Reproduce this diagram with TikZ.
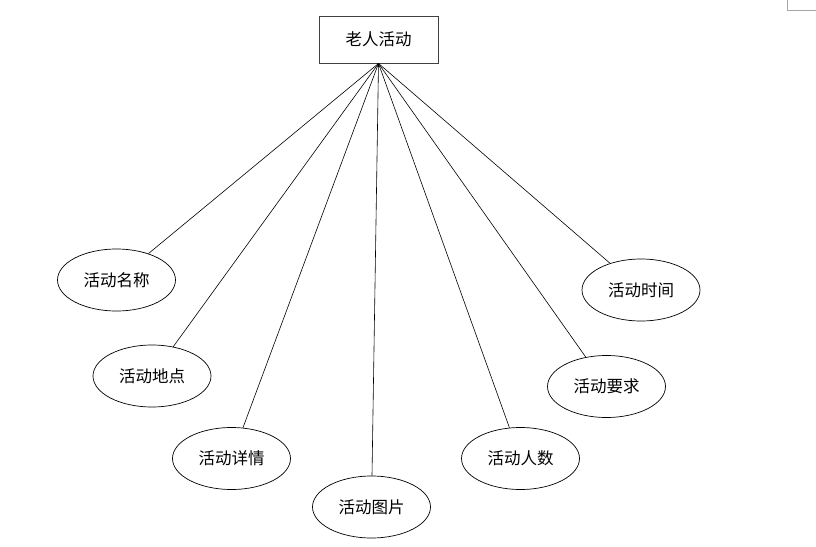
\documentclass[tikz,border=0pt]{standalone}
\usepackage{fontspec}
\newfontfamily\cjk{Noto Sans CJK SC}
\usetikzlibrary{shapes.geometric}

\begin{document}
\begin{tikzpicture}[x=1pt,y=-1pt,
  entity/.style={draw,line width=0.9pt,black!75,text=black,minimum width=119pt,minimum height=47pt,inner sep=0pt,font=\cjk\fontsize{16.5}{18}\selectfont},
  attr/.style={draw,ellipse,line width=0.7pt,minimum width=118pt,minimum height=62pt,inner sep=0pt,font=\cjk\fontsize{16.5}{18}\selectfont},
  link/.style={line width=0.6pt}]
\useasboundingbox (0,0) rectangle (816,546);

% entity
\node[entity] (act) at (378.5,39.5) {老人活动};

% attributes
\node[attr] (name) at (116.5,280) {活动名称};
\node[attr] (place) at (152,376) {活动地点};
\node[attr] (detail) at (231.5,458.5) {活动详情};
\node[attr] (pic) at (371.5,507) {活动图片};
\node[attr] (num) at (520.5,458.5) {活动人数};
\node[attr] (req) at (606.5,386.5) {活动要求};
\node[attr] (time) at (641,290) {活动时间};

\foreach \a in {name,place,detail,pic,num,req,time}
  \draw[link] (act.south) -- (\a);

% page corner mark
\draw[black!35,line width=0.6pt] (787,0) -- (787,10) -- (816,10);
\end{tikzpicture}
\end{document}
